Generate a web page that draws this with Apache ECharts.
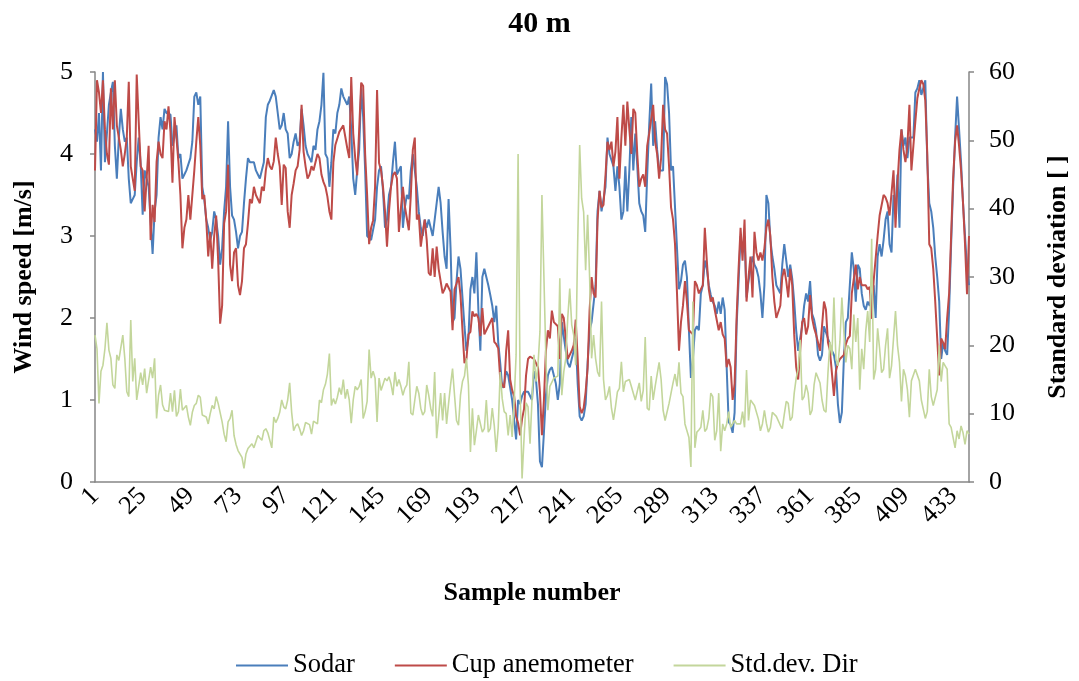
<!DOCTYPE html>
<html>
<head>
<meta charset="utf-8">
<title>40 m</title>
<script src="https://cdn.jsdelivr.net/npm/echarts@6/dist/echarts.min.js"></script>
<style>
  html, body { margin: 0; padding: 0; background: #ffffff; }
  #chart { width: 1079px; height: 681px; }
</style>
</head>
<body>
<div id="chart"></div>
<script>
// Wind speed at 40 m: sodar vs cup anemometer, plus std. dev. of direction
const sodar = [
  4.3,4.15,4.5,3.8,5.0,3.9,3.9,4.6,4.75,4.88,4.1,3.7,4.2,4.55,4.3,4.15,4.2,3.7,3.4,3.45,3.5,3.9,4.2,3.87,3.26,3.8,3.7,3.6,3.62,2.78,3.3,3.5,4.2,4.45,4.3,4.55,4.5,4.48,4.48,4.1,4.2,4.35,3.95,4.0,
  3.7,3.75,3.8,3.8,3.95,4.15,4.7,4.75,4.6,4.7,3.6,3.45,3.2,3.1,2.95,3.05,3.3,3.2,3.0,2.65,2.85,3.3,3.6,4.4,3.6,3.25,3.2,3.05,2.85,3.0,3.05,3.4,3.7,3.95,3.9,3.9,3.9,3.8,3.75,3.7,3.7,3.9,4.45,4.6,4.65,
  4.65,4.78,4.7,4.5,4.3,4.35,4.5,4.3,4.25,3.95,4.0,4.15,4.25,4.1,4.15,4.55,4.35,4.1,4.0,3.95,3.9,4.1,4.05,4.3,4.4,4.6,4.99,4.0,3.95,3.6,3.9,4.3,4.25,4.5,4.6,4.8,4.7,4.7,4.6,4.7,4.3,3.7,3.5,3.8,4.05,
  4.8,4.45,3.8,3.0,3.0,2.95,2.95,3.2,3.6,3.8,3.85,3.55,3.1,3.2,3.5,3.6,3.9,4.15,3.75,3.75,3.85,3.1,3.35,3.5,3.45,3.8,4.0,4.0,3.6,3.3,3.1,3.0,3.2,3.1,3.2,3.2,3.0,3.2,3.4,3.6,3.4,3.05,2.75,2.6,
  3.45,2.85,1.95,2.0,2.45,2.75,2.6,2.25,1.9,1.6,1.75,2.35,2.5,2.3,2.8,2.1,1.6,2.5,2.6,2.5,2.4,2.28,2.15,1.95,2.15,1.7,1.45,1.15,1.2,1.35,1.3,1.15,1.0,1.0,0.52,1.0,0.95,1.05,1.1,1.1,1.1,1.1,1.0,1.35,1.25,0.95,
  0.25,0.18,0.6,1.05,1.3,1.37,1.4,1.4,1.2,1.0,1.2,1.95,1.95,1.6,1.45,1.4,1.5,1.6,1.75,1.2,0.8,0.75,0.8,0.95,1.45,1.85,1.95,1.95,2.4,3.3,3.55,3.3,3.3,3.6,4.2,4.0,4.0,3.85,3.55,3.85,3.6,3.2,3.3,3.85,3.3,3.8,
  4.45,3.8,4.25,3.85,3.4,3.3,3.25,3.05,3.75,4.35,4.86,4.1,4.4,4.05,3.8,3.8,3.8,4.94,4.85,4.5,3.8,3.85,3.35,2.85,2.35,2.45,2.65,2.7,2.5,1.85,1.27,1.5,1.85,1.9,1.85,2.3,2.4,2.7,2.6,2.4,2.28,2.2,2.15,2.05,
  2.2,2.05,2.25,2.1,1.4,0.73,0.7,0.6,0.85,1.9,2.45,3.0,2.8,3.0,2.25,2.45,2.6,2.75,2.65,2.6,2.5,2.3,2.0,2.4,3.5,3.4,2.95,2.75,2.6,2.4,2.4,2.3,2.65,2.9,2.7,2.5,2.65,2.48,2.2,1.85,1.6,1.75,1.9,2.15,2.3,
  2.2,2.45,2.05,1.98,1.85,1.55,1.48,1.55,1.9,1.9,1.75,1.68,1.6,1.55,1.4,0.95,0.72,0.85,1.5,1.95,2.0,2.0,2.8,2.6,2.2,2.65,2.6,2.3,2.15,2.1,2.2,2.15,2.25,2.4,2.0,2.75,2.9,2.75,2.95,3.2,3.3,2.9,2.8,3.5,3.35,3.75,3.1,
  4.3,4.1,4.2,3.95,4.2,4.2,4.2,4.75,4.8,4.9,4.72,4.8,4.9,3.9,3.4,3.3,3.1,2.75,2.5,2.2,1.5,1.7,1.6,1.55,2.1,2.9,3.6,4.2,4.7,4.3,3.9,3.4,3.0,2.6,2.4
];

const cupAnemometer = [
  3.8,4.9,4.75,4.5,4.9,4.3,4.0,3.87,4.8,4.3,4.9,4.35,4.35,4.05,3.85,4.0,4.2,4.88,3.85,3.85,3.55,4.97,4.4,3.85,3.8,3.3,3.7,4.1,2.95,3.38,3.17,3.9,4.15,4.0,3.95,4.4,4.3,4.58,4.27,3.65,4.45,4.2,3.9,3.5,
  2.85,3.1,3.2,3.5,3.2,3.5,3.8,4.15,4.45,4.1,3.45,3.5,3.2,2.75,3.05,2.6,3.0,3.25,2.7,1.93,2.15,3.15,3.3,3.87,2.65,2.45,2.8,2.85,2.4,2.28,2.45,2.85,2.9,3.15,3.45,3.4,3.6,3.5,3.5,3.4,3.6,3.55,3.8,3.95,3.85,
  3.81,3.91,4.2,4.0,3.85,3.38,3.87,3.83,3.3,3.1,3.5,3.64,3.8,3.85,4.05,4.6,4.03,3.85,3.7,3.75,3.85,3.8,3.9,4.0,3.95,3.75,3.66,3.6,3.48,3.3,3.2,3.9,4.11,4.19,4.27,4.29,4.35,4.21,4.07,3.95,4.94,4.25,3.95,3.74,
  4.3,4.87,4.83,4.0,3.5,2.9,3.1,3.19,3.6,4.78,3.89,3.8,3.6,3.3,2.87,3.3,3.6,3.74,3.78,3.7,3.05,3.34,3.6,3.36,3.38,3.07,3.5,4.05,4.2,3.2,3.26,2.87,3.05,3.2,2.95,2.55,2.52,2.85,2.5,2.87,2.6,2.45,2.3,2.35,2.42,
  2.42,2.32,1.85,2.35,2.42,2.5,2.28,1.85,1.45,1.5,1.8,1.83,2.08,2.02,2.05,2.0,1.78,2.12,1.8,1.85,1.9,1.9,2.0,1.71,1.68,1.63,1.26,1.18,1.15,1.6,1.85,1.25,1.12,1.05,0.8,0.72,0.57,0.77,0.89,1.3,1.5,1.53,1.53,1.5,1.48,1.4,
  1.1,0.57,1.0,1.6,1.85,1.75,2.09,1.95,1.95,1.9,1.5,2.05,2.0,1.75,1.5,1.55,1.6,1.67,1.98,1.5,0.92,0.84,0.9,1.1,1.39,2.1,2.5,2.3,2.25,3.2,3.55,3.35,3.38,3.74,4.15,4.05,4.15,3.85,4.03,4.45,3.7,4.2,4.6,4.1,4.64,4.3,
  4.0,4.55,4.5,4.0,3.6,3.7,3.75,3.6,4.1,4.25,4.25,4.6,4.15,4.0,3.7,3.95,4.6,4.3,4.25,3.85,3.35,3.2,2.9,2.3,1.6,1.95,2.15,2.45,2.2,1.85,1.85,1.8,2.45,2.4,2.3,2.28,2.4,3.1,2.7,2.35,2.2,2.25,2.1,2.1,
  1.85,1.95,1.8,1.75,1.4,1.5,1.4,1.0,1.2,2.0,2.6,3.1,2.7,3.2,2.2,2.5,2.75,2.25,3.05,2.8,2.7,2.8,2.7,2.85,3.1,3.2,3.0,2.5,2.2,2.0,2.0,2.15,2.5,2.6,2.45,2.25,2.6,2.4,1.8,1.4,1.25,1.6,1.95,2.0,1.8,
  1.9,2.28,2.0,1.88,1.8,1.7,1.6,1.6,2.2,2.1,1.7,1.6,1.6,1.05,1.35,1.45,1.5,1.5,1.55,1.68,1.75,1.78,2.3,2.3,2.65,2.35,2.5,2.4,2.42,2.4,2.35,2.38,1.99,2.45,2.45,3.0,3.25,3.25,3.5,3.47,3.4,3.25,3.25,3.8,3.1,3.65,4.05,
  4.3,4.05,3.9,4.1,4.6,3.8,4.1,4.4,4.68,4.8,4.9,4.85,4.65,4.0,2.9,2.85,2.6,2.2,1.75,1.3,1.75,1.7,1.62,2.0,2.3,3.0,3.7,4.15,4.35,4.1,3.8,3.4,2.9,2.29,3.0
];

const stdDevDir = [
  21.5,19.5,11.5,16.2,17.1,19.5,23.3,19.3,18.1,14.2,13.7,18.6,17.8,17.6,21.5,18.1,13.2,12.5,23.7,14.7,18.1,12.0,11.8,16.0,14.2,16.6,13.0,13.2,16.8,15.2,18.1,9.3,12.7,14.2,11.3,10.5,10.3,10.3,13.0,10.3,13.4,9.6,10.3,13.6,
  10.5,10.7,11.2,9.5,8.3,10.2,11.2,11.5,12.7,12.4,9.8,10.0,9.5,8.5,10,11.2,10.7,12.5,11.5,11.5,8.8,7,5.9,8.8,9.3,10.5,6.8,5.5,4.6,4.4,3.6,2.0,4.1,4.9,5.1,5.6,5.0,5.9,6.8,6.6,6.1,7.5,7.8,7.2,7.2,
  5.0,9.5,8.7,9.3,10.2,12.0,11.0,10.7,12.0,14.5,10.2,7.5,8.2,8.5,7.8,6.8,7.5,8.7,8.8,8.4,7.0,8.9,8.7,8.5,12.0,11.6,13.5,14.3,15.8,18.8,11.2,12.2,11.4,12.4,13.8,12.8,15.0,12.2,13.6,12.0,8.6,12.0,14.0,13.5,
  14,15.0,9.3,10.3,11.8,19.4,15.2,16.2,15.2,8.8,15.2,13.4,13.3,15.2,14.8,15.4,14.4,12.7,16.1,14.0,15.0,14.0,12.7,13.7,14.2,17.6,10.1,9.8,12.0,14.0,13.0,10.8,9.8,10.3,14.2,12.7,10.8,9.6,16.1,6.4,9.5,13.0,9.0,13.0,8.5,
  11.5,14.2,16.6,12.7,9.0,8.3,12.7,14.7,15.5,18.1,14.2,4.4,10.8,5.4,7.5,9.8,9.8,7.3,7.8,12,7.3,7.8,10.8,8.3,4.4,8.0,16.1,12.2,10.3,10,6.8,9.8,6.6,11.8,18.6,48,14,0.5,6.4,11.6,11.0,5.6,12,18.6,14.7,17,22,
  42,30,18,10.5,14,14,15.2,15.4,15.5,29.8,12.7,16.1,18.1,24,28.3,23,21.5,17.1,35,49.3,41.5,39.5,31,39.1,30,18.1,21.5,18.1,16.1,15.4,26.4,15,12,12.7,14,10.8,9.1,11,13.2,13.7,17.6,13.2,14.7,14.7,15,
  14.0,13.0,12.0,11.8,14.5,11.8,13.4,21.2,10.8,10.5,15.5,12.0,14.0,14.2,17.5,15.0,10.5,9.0,9.0,11.5,13.0,14.5,15.8,14.0,17.5,13.0,12.5,8.5,8.3,6.5,2.2,26.4,5.0,7.3,7.6,8.0,10.5,7.4,7.8,9.3,13.0,12.5,6.1,7.5,
  13.0,4.5,8.5,7.5,8.5,10.3,8.0,8.5,9.0,8.5,8.4,8.5,10.3,8.0,16.4,9.0,12.0,11.8,11.2,11.0,9.2,7.5,8.5,10.5,8.6,7.3,8.0,10.2,10.0,9.6,9.4,8.3,7.8,9.9,11.8,11.5,9.0,9.5,13.0,15.2,16.5,20.8,12,12.5,14.2,
  13,9.8,10.5,14.2,16,16.2,14.5,12.0,10.5,10.2,16,20.5,18.5,27.0,18,17,20.5,27,22,17.5,20,19.5,16.5,24.5,20.5,24,13.5,19.5,16.5,22,25,20.5,35.6,15,16.5,22.5,19.5,16,16.5,20,22.5,15.2,17,21,25,20,17.5,
  11.8,16.5,15.5,13.5,9.5,14.8,14.7,16.5,16.7,14.8,12.0,12.0,9.3,10.3,16.5,12.5,11.2,11.0,13.5,20,14.7,17.5,17,16.5,8.5,8.0,8.0,5.0,7.5,6.3,8.2,7.2,5.5,7.5,7.0
];

// Sample numbers along the category axis (1 .. number of samples)
const sampleNumbers = sodar.map((_, i) => String(i + 1));

const seriesNames = ['Sodar', 'Cup anemometer', 'Std.dev. Dir'];
const seriesColors = ['#4a7ebb', '#be4b48', '#c3d69b'];

const serif = 'Liberation Serif, Times New Roman, serif';
const axisGray = '#868686';

const chart = echarts.init(document.getElementById('chart'), null, { renderer: 'canvas' });

chart.setOption({
  animation: false,
  backgroundColor: '#ffffff',
  title: {
    text: '40 m',
    left: 'center',
    top: 4,
    textStyle: { fontFamily: serif, fontSize: 30, fontWeight: 'bold', color: '#000' }
  },
  legend: {
    data: seriesNames,
    top: 647,
    left: 231,
    icon: 'rect',
    itemWidth: 52,
    itemHeight: 2,
    itemGap: 40,
    textStyle: { fontFamily: serif, fontSize: 26.5, color: '#000' }
  },
  grid: { left: 95, right: 108, top: 72, bottom: 199, containLabel: false },
  xAxis: {
    type: 'category',
    data: sampleNumbers,
    boundaryGap: false,
    name: 'Sample number',
    nameLocation: 'middle',
    nameGap: 98,
    nameTextStyle: { fontFamily: serif, fontSize: 26, fontWeight: 'bold', color: '#000' },
    axisLine: { lineStyle: { color: axisGray, width: 1.5 } },
    axisTick: { show: false },
    axisLabel: {
      interval: 23,
      rotate: 45,
      margin: 10,
      fontFamily: serif,
      fontSize: 26,
      color: '#000'
    },
    splitLine: { show: false }
  },
  yAxis: [
    {
      type: 'value',
      min: 0,
      max: 5,
      interval: 1,
      position: 'left',
      name: 'Wind speed [m/s]',
      nameLocation: 'middle',
      nameRotate: 90,
      nameGap: 58,
      nameTextStyle: { fontFamily: serif, fontSize: 26, fontWeight: 'bold', color: '#000' },
      axisLine: { show: true, lineStyle: { color: axisGray, width: 1.5 } },
      axisTick: { show: true, inside: false, length: 5, lineStyle: { color: axisGray, width: 1.5 } },
      axisLabel: { margin: 22, fontFamily: serif, fontSize: 26, color: '#000' },
      splitLine: { show: false }
    },
    {
      type: 'value',
      min: 0,
      max: 60,
      interval: 10,
      position: 'right',
      name: 'Standard deviation [ ]',
      nameLocation: 'middle',
      nameRotate: 90,
      nameGap: 76,
      nameTextStyle: { fontFamily: serif, fontSize: 26, fontWeight: 'bold', color: '#000' },
      axisLine: { show: true, lineStyle: { color: axisGray, width: 1.5 } },
      axisTick: { show: true, inside: false, length: 5, lineStyle: { color: axisGray, width: 1.5 } },
      axisLabel: { margin: 20, fontFamily: serif, fontSize: 26, color: '#000' },
      splitLine: { show: false }
    }
  ],
  series: [
    {
      name: seriesNames[0],
      type: 'line',
      yAxisIndex: 0,
      data: sodar,
      showSymbol: false,
      color: seriesColors[0],
      lineStyle: { color: seriesColors[0], width: 2 }
    },
    {
      name: seriesNames[1],
      type: 'line',
      yAxisIndex: 0,
      data: cupAnemometer,
      showSymbol: false,
      color: seriesColors[1],
      lineStyle: { color: seriesColors[1], width: 2 }
    },
    {
      name: seriesNames[2],
      type: 'line',
      yAxisIndex: 1,
      data: stdDevDir,
      showSymbol: false,
      color: seriesColors[2],
      lineStyle: { color: seriesColors[2], width: 1.6 }
    }
  ]
});
</script>
</body>
</html>
